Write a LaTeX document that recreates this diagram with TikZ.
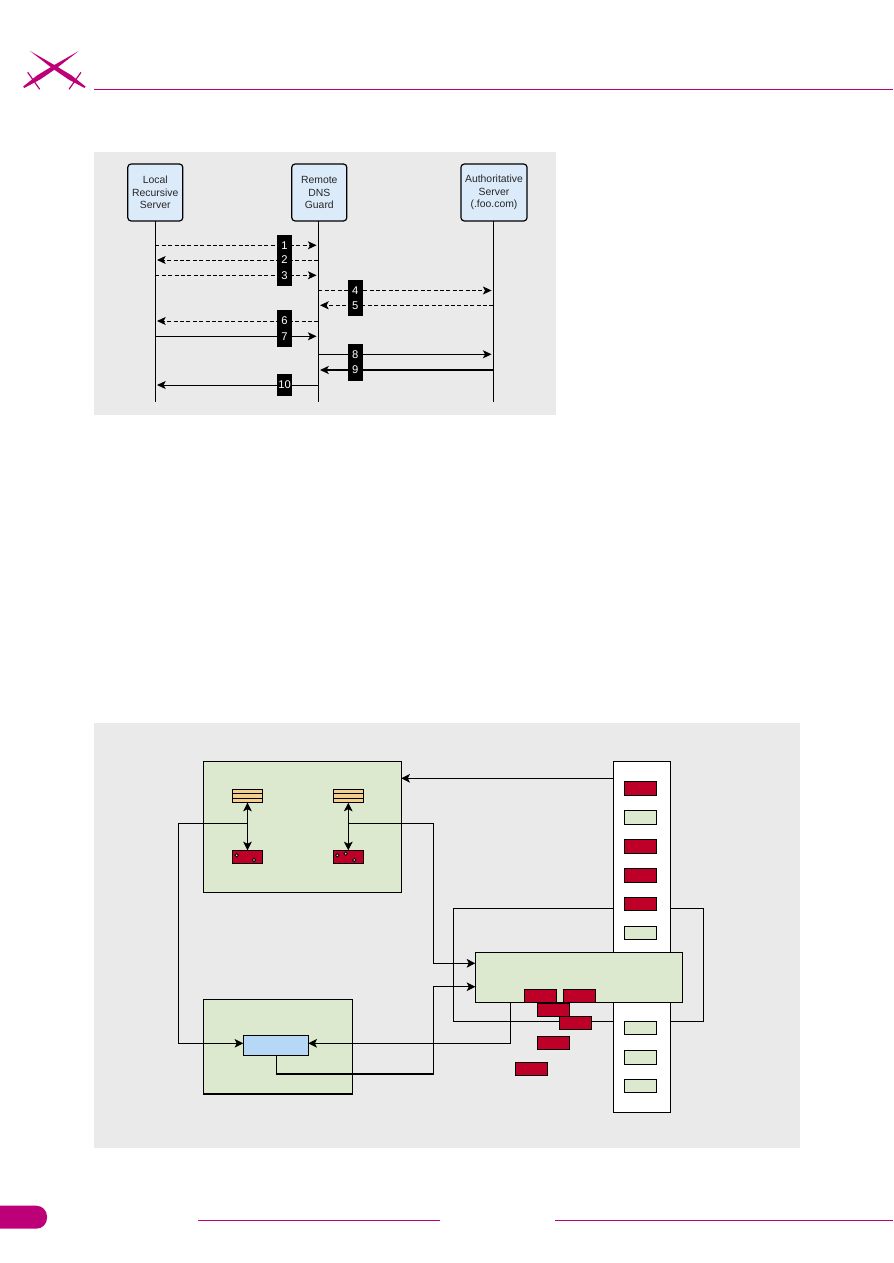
\documentclass[tikz,border=0pt]{standalone}
\usepackage{fontspec}
\setmainfont{Liberation Sans}
\usetikzlibrary{arrows.meta}
\definecolor{pagemag}{RGB}{190,0,120}
\definecolor{panelgray}{RGB}{234,234,234}
\definecolor{boxgreen}{RGB}{221,233,206}
\definecolor{boxred}{RGB}{190,0,40}
\definecolor{boxblue}{RGB}{182,215,245}
\definecolor{headblue}{RGB}{220,235,250}
\definecolor{queueorange}{RGB}{243,207,143}
\tikzset{
  head/.style={draw,line width=0.9pt,fill=headblue,rounded corners=2.5pt,align=center,inner sep=0pt,outer sep=0pt,
    text=black!85,font=\fontsize{7.8}{9.5}\selectfont},
  numbox/.style={fill=black,text=white,minimum width=11.3pt,minimum height=15.8pt,inner sep=0pt,outer sep=0pt,
    font=\fontsize{8.4}{10}\selectfont},
  life/.style={line width=0.7pt},
  msg/.style={line width=0.7pt,-{Stealth[length=6.5pt,width=6pt,inset=1.6pt]},shorten >=1.3pt},
  dmsg/.style={msg,dash pattern=on 3pt off 1.8pt},
  area/.style={draw,line width=0.75pt,fill=boxgreen,inner sep=0pt,outer sep=0pt},
  redbox/.style={draw,line width=0.75pt,fill=boxred,minimum width=24.3pt,minimum height=10pt,inner sep=0pt,outer sep=0pt},
  greenbox/.style={draw,line width=0.75pt,fill=boxgreen,minimum width=24.3pt,minimum height=10pt,inner sep=0pt,outer sep=0pt},
  smallred/.style={draw,line width=0.75pt,fill=boxred,minimum width=22.6pt,minimum height=10pt,inner sep=0pt,outer sep=0pt},
  queuebox/.style={draw,line width=0.75pt,fill=queueorange,minimum width=22.6pt,minimum height=10pt,inner sep=0pt,outer sep=0pt,
    path picture={
      \draw[line width=0.7pt] ([yshift=1.65pt]path picture bounding box.west) -- ([yshift=1.65pt]path picture bounding box.east);
      \draw[line width=0.7pt] ([yshift=-1.65pt]path picture bounding box.west) -- ([yshift=-1.65pt]path picture bounding box.east);
    }},
  dotmark/.style={circle,draw,line width=0.6pt,fill=black!15,minimum size=2.6pt,inner sep=0pt,outer sep=0pt},
  wire/.style={line width=0.75pt},
  arr/.style={wire,-{Stealth[length=6.5pt,width=6.5pt,inset=1.6pt]}},
  dblarr/.style={wire,{Stealth[length=6.5pt,width=6.5pt,inset=1.6pt]}-{Stealth[length=6.5pt,width=6.5pt,inset=1.6pt]}},
}
\begin{document}
\begin{tikzpicture}[x=0.75pt,y=0.75pt,yscale=-1,xscale=1]
\useasboundingbox (0,0) rectangle (893,1263);

% page furniture
\fill[pagemag] (30,51) -- (54.4,65) -- (71.6,75.4) -- (85.5,86.5) -- (84.5,88) -- (68.4,79.4) -- (52.4,68.4) -- cycle;
\fill[pagemag] (78.7,51) -- (54.3,65) -- (37.1,75.4) -- (23.2,86.5) -- (24.2,88) -- (40.3,79.4) -- (56.3,68.4) -- cycle;
\draw[pagemag,line width=0.9pt] (69,89.3) -- (81,72.3);
\draw[pagemag,line width=0.9pt] (39.7,89.3) -- (27.7,72.3);
\draw[pagemag,line width=0.75pt] (94,89.3) -- (893,89.3);
\fill[pagemag,rounded corners=8] (-12,1205.7) rectangle (47,1228.7);
\draw[pagemag,line width=0.75pt] (198,1220.3) -- (440,1220.3);
\draw[pagemag,line width=0.75pt] (555,1220.3) -- (893,1220.3);

% upper figure
\fill[panelgray] (94,152) rectangle (556,415);
\node[head,minimum width=41.3pt,minimum height=42.7pt] (local) at (155.3,192.5) {Local\\Recursive\\Server};
\node[head,minimum width=41.3pt,minimum height=42.7pt] (guard) at (319.3,192.5) {Remote\\DNS\\Guard};
\node[head,minimum width=49.6pt,minimum height=42.7pt] (auth) at (494,192.5) {Authoritative\\Server\\(.foo.com)};
\coordinate (foot) at (0,401.7);
\coordinate (gl) at (318.3,0);
\coordinate (al) at (493.3,0);
\draw[life] (local.south) -- (local |- foot);
\draw[life] (gl |- guard.south) -- (gl |- foot);
\draw[life] (al |- auth.south) -- (al |- foot);

\coordinate (m1) at (0,245.3);
\coordinate (m2) at (0,260);
\coordinate (m3) at (0,275.3);
\coordinate (m4) at (0,290.5);
\coordinate (m5) at (0,305.3);
\coordinate (m6) at (0,321);
\coordinate (m7) at (0,336.3);
\coordinate (m8) at (0,354.3);
\coordinate (m9) at (0,370);
\coordinate (m10) at (0,385);
\draw[dmsg] (local |- m1) -- (gl |- m1);
\draw[dmsg] (gl |- m2) -- (local |- m2);
\draw[dmsg] (local |- m3) -- (gl |- m3);
\draw[dmsg] (gl |- m4) -- (al |- m4);
\draw[dmsg] (al |- m5) -- (gl |- m5);
\draw[dmsg] (gl |- m6) -- (local |- m6);
\draw[msg] (local |- m7) -- (gl |- m7);
\draw[msg] (gl |- m8) -- (al |- m8);
\draw[msg,line width=1.2pt] (al |- m9) -- (gl |- m9);
\draw[msg] (gl |- m10) -- (local |- m10);
\node[numbox] (n1) at (284.5,245.3) {1};
\node[numbox] (n2) at (284.5,260) {2};
\node[numbox] (n3) at (284.5,275.3) {3};
\node[numbox] (n4) at (355.3,290.5) {4};
\node[numbox] (n5) at (355.3,305.3) {5};
\node[numbox] (n6) at (284.5,321) {6};
\node[numbox] (n7) at (284.5,336.3) {7};
\node[numbox] (n8) at (355.3,354.3) {8};
\node[numbox] (n9) at (355.3,370) {9};
\node[numbox] (n10) at (284.5,385) {10};

% lower figure
\fill[panelgray] (94,723) rectangle (800,1148);
\coordinate (loopnw) at (453.3,908.3);
\coordinate (loopse) at (703.3,1021.3);
\draw[wire] (loopnw) rectangle (loopse);

\node[area,minimum width=148.5pt,minimum height=98.3pt] (hostA) at (302.3,826.8) {};
\node[area,minimum width=111.8pt,minimum height=71pt] (hostB) at (277.8,1046.7) {};
\draw[line width=1.2pt] (hostB.south west) -- (hostB.south east);
\node[draw,line width=0.75pt,fill=white,minimum width=42.8pt,minimum height=263pt,inner sep=0pt,outer sep=0pt] (column) at (641.8,936.7) {};

\node[redbox] (c1) at (640.5,788.5) {};
\node[greenbox] (c2) at (640.5,817.5) {};
\node[redbox] (c3) at (640.5,846.5) {};
\node[redbox] (c4) at (640.5,875.5) {};
\node[redbox] (c5) at (640.5,904) {};
\node[greenbox] (c6) at (640.5,933) {};
\node[greenbox] (c7) at (640.5,1028) {};
\node[greenbox] (c8) at (640.5,1057.5) {};
\node[greenbox] (c9) at (640.5,1086.3) {};

\node[area,minimum width=155.2pt,minimum height=37.5pt] (hostC) at (578.8,977.3) {};
\node[redbox] (p1) at (540.5,995.8) {};
\node[redbox] (p2) at (579.7,995.8) {};
\node[redbox] (p3) at (553.5,1009.7) {};
\node[redbox] (p4) at (575.5,1023) {};
\node[redbox] (p5) at (553.7,1043.3) {};
\node[redbox] (p6) at (531.5,1069.3) {};

\node[queuebox] (q1) at (247.5,796) {};
\node[queuebox] (q2) at (348.3,796) {};
\node[smallred] (s1) at (247.5,857) {};
\node[smallred] (s2) at (348.3,857) {};
\node[dotmark] (d1) at (236.7,855.3) {};
\node[dotmark] (d2) at (254,860) {};
\node[dotmark] (d3) at (337.3,855.3) {};
\node[dotmark] (d4) at (345.7,853.7) {};
\node[dotmark] (d5) at (354.3,860) {};
\node[draw,line width=0.75pt,fill=boxblue,minimum width=48.8pt,minimum height=15pt,inner sep=0pt,outer sep=0pt] (proxy) at (275.8,1045.3) {};

\draw[dblarr] (q1) -- (s1);
\draw[dblarr] (q2) -- (s2);
\coordinate (tapA) at (247.5,823.3);
\coordinate (tapB) at (348.3,823.3);
\coordinate (inA) at (0,963.3);
\coordinate (inB) at (0,986.7);
\coordinate (inP) at (0,1043.3);
\coordinate (outP) at (276.7,1074);
\draw[arr] (column.west |- 0,778.3) -- (hostA.east |- 0,778.3);
\draw[arr] (tapA) -- (178.3,823.3) -- (178.3,1043.3) -- (proxy.west |- inP);
\draw[arr] (tapB) -- (433.3,823.3) -- (433.3,963.3) -- (hostC.west |- inA);
\draw[arr] (hostC.south -| 510.3,0) -- (510.3,1043.3) -- (proxy.east |- inP);
\draw[arr] (proxy.south -| outP) -- (outP) -- (433.3,1074) -- (433.3,986.7) -- (hostC.west |- inB);
\draw[line width=1.2pt] (outP) -- (433.3,1074);
\end{tikzpicture}
\end{document}
